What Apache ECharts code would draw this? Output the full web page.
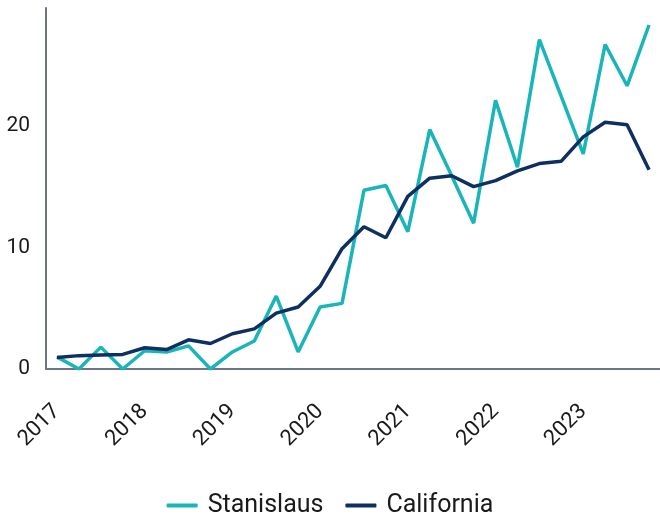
<!DOCTYPE html>
<html>
<head>
<meta charset="utf-8">
<script src="https://cdn.jsdelivr.net/npm/echarts@6/dist/echarts.min.js"></script>
<style>
  html, body { margin: 0; padding: 0; background: #fff; }
  #main { width: 660px; height: 518px; }
</style>
</head>
<body>
<div id="main"></div>
<script>
// quarters 2017 Q1 - 2023 Q4
var quarters = [
  '2017 Q1', '2017 Q2', '2017 Q3', '2017 Q4',
  '2018 Q1', '2018 Q2', '2018 Q3', '2018 Q4',
  '2019 Q1', '2019 Q2', '2019 Q3', '2019 Q4',
  '2020 Q1', '2020 Q2', '2020 Q3', '2020 Q4',
  '2021 Q1', '2021 Q2', '2021 Q3', '2021 Q4',
  '2022 Q1', '2022 Q2', '2022 Q3', '2022 Q4',
  '2023 Q1', '2023 Q2', '2023 Q3', '2023 Q4'
]
var stanislaus = [
  1.0, 0, 1.8, 0, 1.5, 1.4, 1.9, 0,
  1.4, 2.3, 6.0, 1.4, 5.1, 5.4, 14.7, 15.1,
  11.3, 19.7, 15.9, 12.0, 22.1, 16.6, 27.1, 22.4,
  17.7, 26.7, 23.3, 28.3
]
var california = [
  0.95, 1.1, 1.15, 1.2, 1.75, 1.6, 2.4, 2.1,
  2.9, 3.3, 4.6, 5.1, 6.8, 9.9, 11.7, 10.8,
  14.2, 15.7, 15.9, 15.0, 15.5, 16.3, 16.9, 17.1,
  19.1, 20.3, 20.1, 16.4
]
var yTicks = [0, 10, 20]

var chart = echarts.init(document.getElementById('main'))
var font = 'Roboto, "Noto Sans", sans-serif'

var option = {
  animation: false,
  grid: { left: 46, right: 0, top: 8, bottom: 149 },
  legend: {
    bottom: -5,
    left: 'center',
    icon: 'roundRect',
    itemWidth: 31,
    itemHeight: 4,
    itemGap: 22,
    textStyle: { fontFamily: font, fontSize: 25, color: '#1a1a1a', padding: [0, 0, 0, 5] },
    data: ['Stanislaus', 'California']
  },
  xAxis: {
    type: 'category',
    boundaryGap: true,
    data: quarters,
    axisLine: { lineStyle: { color: '#6f7680', width: 2 } },
    axisTick: { show: false },
    axisLabel: {
      interval: 3,
      rotate: 45,
      margin: 39,
      fontFamily: font,
      fontSize: 22,
      color: '#1a1a1a',
      formatter: function (v) { return v.slice(0, 4) }
    }
  },
  yAxis: {
    type: 'value',
    min: yTicks[0],
    max: 29.7,
    interval: 10,
    splitLine: { show: false },
    axisLine: { show: true, lineStyle: { color: '#6f7680', width: 2 } },
    axisTick: { show: false },
    axisLabel: {
      showMaxLabel: false,
      margin: 16,
      fontFamily: font,
      fontSize: 21,
      color: '#1a1a1a'
    }
  },
  series: [
    {
      name: 'Stanislaus',
      type: 'line',
      data: stanislaus,
      showSymbol: false,
      symbol: 'none',
      lineStyle: { width: 3.5, color: '#19b5b8' },
      itemStyle: { color: '#19b5b8' }
    },
    {
      name: 'California',
      type: 'line',
      data: california,
      showSymbol: false,
      symbol: 'none',
      lineStyle: { width: 3.5, color: '#0e2f62' },
      itemStyle: { color: '#0e2f62' }
    }
  ]
}
chart.setOption(option)
</script>
</body>
</html>
